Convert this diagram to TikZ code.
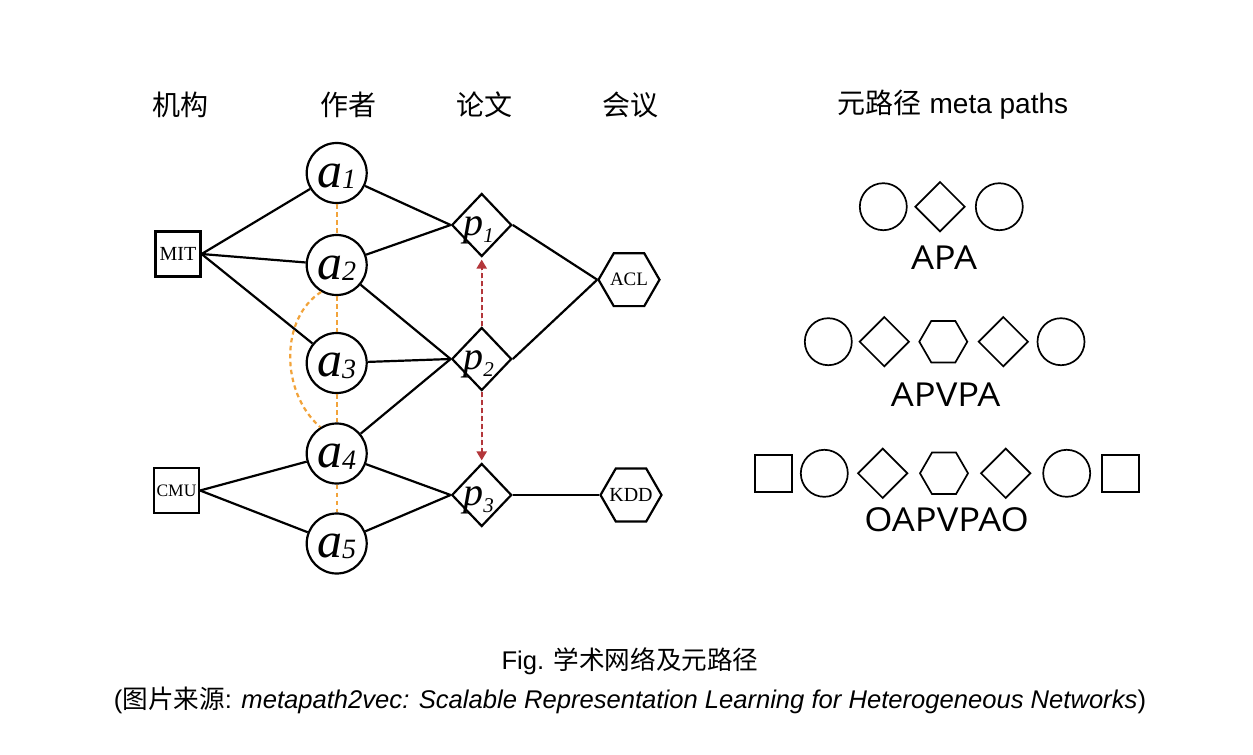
\documentclass[tikz,border=0pt]{standalone}
\usepackage{fontspec}
\setmainfont{Liberation Serif}
\newfontfamily\cjk{Noto Sans CJK SC}
\newfontfamily\hel{Liberation Sans}
\newfontfamily\lab[FakeStretch=1.1]{Open Sans}
\usetikzlibrary{shapes.geometric,arrows.meta}
\definecolor{coorange}{HTML}{F2A33A}
\definecolor{citered}{HTML}{B3363A}
\newcommand\autlab[1]{{\fontsize{50}{50}\selectfont\itshape a}\raisebox{-1.5pt}{\fontsize{28}{28}\selectfont\itshape #1}}
\newcommand\paplab[1]{{\fontsize{40}{40}\selectfont\itshape p}\raisebox{-7pt}{\fontsize{21}{21}\selectfont\itshape #1}}
\begin{document}
\begin{tikzpicture}[x=1pt,y=-1pt,
  edge/.style={line width=2.2pt, black},
  author/.style={circle, draw, line width=2.2pt, minimum size=60pt, inner sep=0pt},
  paper/.style={diamond, draw, line width=2.2pt, minimum width=60pt, minimum height=63pt, inner sep=0pt},
  org/.style={rectangle, draw, line width=2.2pt, minimum size=45pt, inner sep=0pt},
  venue/.style={regular polygon, regular polygon sides=6, draw, line width=2.2pt, minimum size=61pt, inner sep=0pt},
  coauth/.style={draw=coorange, line width=2.2pt, dash pattern=on 4.5pt off 3.5pt},
  cite/.style={draw=citered, line width=2.2pt, dash pattern=on 5pt off 3pt, shorten >=2pt, -{Triangle[length=9pt,width=10pt]}, fill=citered},
  head/.style={font=\cjk\fontsize{28}{28}\selectfont},
  mcirc/.style={circle, draw, line width=1.7pt, minimum size=47pt, inner sep=0pt},
  mdiam/.style={diamond, draw, line width=1.7pt, minimum width=50pt, minimum height=50pt, inner sep=0pt},
  mhex/.style={regular polygon, regular polygon sides=6, draw, line width=1.7pt, minimum size=48pt, inner sep=0pt},
  msq/.style={rectangle, draw, line width=1.7pt, minimum size=37pt, inner sep=0pt},
  mlab/.style={font=\lab\fontsize{33}{33}\selectfont, inner sep=0pt},
  captext/.style={font=\hel\fontsize{25.6}{25.6}\selectfont, inner sep=0pt}
]
\useasboundingbox (0,0) rectangle (1253,755);
\fill[white] (0,0) rectangle (1253,755);

% headers
\node[head] (h1) at (180,105) {机构};
\node[head] (h2) at (348,105) {作者};
\node[head] (h3) at (484,105) {论文};
\node[head] (h4) at (630,105) {会议};
\node[head] (h5) at (953,105) {元路径\hel{} meta paths};

% nodes
\node[org] (MIT) at (178,254) {\fontsize{20}{20}\selectfont MIT};
\node[org] (CMU) at (176.5,490.5) {\fontsize{17.5}{17.5}\selectfont CMU};
\node[author] (a1) at (336.7,173) {};
\node[author] (a2) at (336.7,265) {};
\node[author] (a3) at (336.7,363) {};
\node[author] (a4) at (336.7,453.5) {};
\node[author] (a5) at (336.7,543.5) {};
\node (ta1) at ([yshift=-3pt]a1.center) {\autlab{1}};
\node (ta2) at ([yshift=-3pt]a2.center) {\autlab{2}};
\node (ta3) at ([yshift=-3pt]a3.center) {\autlab{3}};
\node (ta4) at ([yshift=-3pt]a4.center) {\autlab{4}};
\node (ta5) at ([yshift=-3pt]a5.center) {\autlab{5}};
\node[paper] (p1) at (481.7,225) {};
\node[paper] (p2) at (481.7,359) {};
\node[paper] (p3) at (481.7,495) {};
\node (tp1) at ([xshift=-3pt,yshift=-5pt]p1.center) {\paplab{1}};
\node (tp2) at ([xshift=-3pt,yshift=-5pt]p2.center) {\paplab{2}};
\node (tp3) at ([xshift=-3pt,yshift=-5pt]p3.center) {\paplab{3}};
\node[venue] (ACL) at (629,279.7) {};
\node[venue] (KDD) at (631,495) {};
\node (tACL) at (ACL) {\fontsize{19}{19}\selectfont ACL};
\node (tKDD) at (KDD) {\fontsize{20}{20}\selectfont KDD};

% edges
\draw[edge] (MIT.east) -- (a1);
\draw[edge] (MIT.east) -- (a2);
\draw[edge] (MIT.east) -- (a3);
\draw[edge] (CMU.east) -- (a4);
\draw[edge] (CMU.east) -- (a5);
\draw[edge] (a1) -- (p1.west);
\draw[edge] (a2) -- (p1.west);
\draw[edge] (a2) -- (p2.west);
\draw[edge] (a3) -- (p2.west);
\draw[edge] (a4) -- (p2.west);
\draw[edge] (a4) -- (p3.west);
\draw[edge] (a5) -- (p3.west);
\draw[edge] (p1.east) -- (ACL.west);
\draw[edge] (p2.east) -- (ACL.west);
\draw[edge] (p3.east) -- (KDD.west);

% co-author dashed
\draw[coauth] (a1) -- (a2);
\draw[coauth] (a2) -- (a3);
\draw[coauth] (a3) -- (a4);
\draw[coauth] (a4) -- (a5);
\draw[coauth] (a2.240) .. controls (280,318) and (280,392) .. (a4.122);

% citation arrows
\draw[cite] (p2.north) -- (p1.south);
\draw[cite] (p2.south) -- (p3.north);

% meta paths
\node[mcirc] (r1a) at (883.3,206.7) {};
\node[mdiam] (r1b) at (940,206.7) {};
\node[mcirc] (r1c) at (999.3,206.7) {};
\node[mlab] (l1) at (944,258) {APA};

\node[mcirc] (r2a) at (828.3,341.7) {};
\node[mdiam] (r2b) at (884.3,341.7) {};
\node[mhex] (r2c) at (943.3,341.7) {};
\node[mdiam] (r2d) at (1003.3,341.7) {};
\node[mcirc] (r2e) at (1061,341.7) {};
\node[mlab] (l2) at (945.7,395) {APVPA};

\node[msq] (r3a) at (773.7,473.3) {};
\node[mcirc] (r3b) at (824.3,473.3) {};
\node[mdiam] (r3c) at (882.7,473.3) {};
\node[mhex] (r3d) at (944,473.3) {};
\node[mdiam] (r3e) at (1005.7,473.3) {};
\node[mcirc] (r3f) at (1066.7,473.3) {};
\node[msq] (r3g) at (1120.7,473.3) {};
\node[mlab] (l3) at (946.7,520) {OAPVPAO};

% caption
\node[captext] (c1) at (630,661) {Fig. {\cjk 学术网络及元路径}};
\node[captext] (c2) at (630,700) {({\cjk 图片来源}: \textit{metapath2vec: Scalable Representation Learning for Heterogeneous Networks})};
\end{tikzpicture}
\end{document}
